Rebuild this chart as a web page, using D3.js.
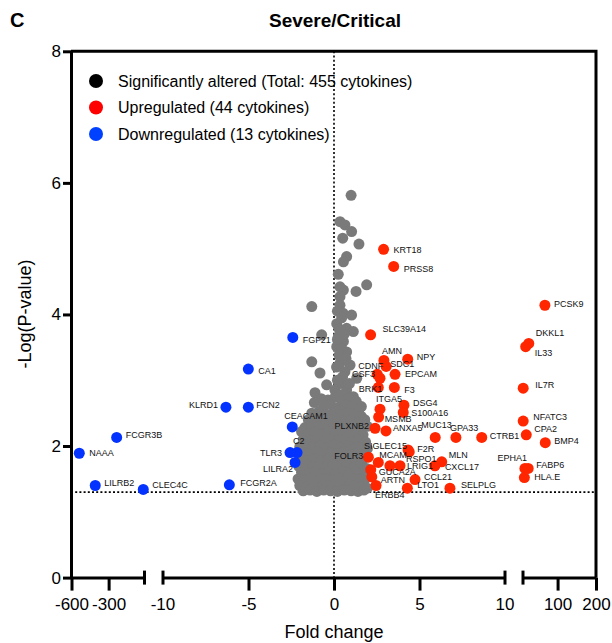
<!DOCTYPE html>
<html>
<head>
<meta charset="utf-8">
<script src="https://d3js.org/d3.v7.min.js"></script>
<style>
  body { margin:0; background:#fff; }
  svg { display:block; font-family: Arial, "Liberation Sans", Helvetica, sans-serif; }
  .lbl { font-size: 9px; fill:#111; }
</style>
</head>
<body>
<script>
// fold change (fc) and -log10(p)
var upregulated = [
  {name:"KRT18", fc:2.90, p:4.99}, {name:"PRSS8", fc:3.49, p:4.73},
  {name:"SLC39A14", fc:2.14, p:3.69}, {name:"NPY", fc:4.31, p:3.32},
  {name:"AMN", fc:2.92, p:3.30}, {name:"SDC1", fc:3.05, p:3.21},
  {name:"EPCAM", fc:3.57, p:3.09}, {name:"CDNF", fc:2.53, p:3.09},
  {name:"CSF3", fc:2.69, p:3.03}, {name:"BRK1", fc:2.59, p:2.89},
  {name:"F3", fc:3.53, p:2.89}, {name:"DSG4", fc:4.09, p:2.62},
  {name:"S100A16", fc:4.05, p:2.51}, {name:"ITGA5", fc:2.69, p:2.56},
  {name:"MSMB", fc:2.61, p:2.44}, {name:"PLXNB2", fc:2.40, p:2.27},
  {name:"ANXA5", fc:3.04, p:2.23}, {name:"MUC13", fc:5.92, p:2.13},
  {name:"GPA33", fc:7.13, p:2.13}, {name:"CTRB1", fc:8.64, p:2.13},
  {name:"SIGLEC15", fc:4.33, p:1.94}, {name:"F2R", fc:4.40, p:1.91},
  {name:"FOLR3", fc:2.01, p:1.83}, {name:"MCAM", fc:2.59, p:1.75},
  {name:"RSPO1", fc:3.86, p:1.70}, {name:"MLN", fc:6.30, p:1.76},
  {name:"CXCL17", fc:5.90, p:1.70}, {name:"LRIG1", fc:3.27, p:1.70},
  {name:"GUCA2A", fc:2.15, p:1.64}, {name:"ARTN", fc:2.21, p:1.53},
  {name:"CCL21", fc:4.74, p:1.49}, {name:"ERBB4", fc:2.46, p:1.40},
  {name:"LTO1", fc:4.29, p:1.36}, {name:"SELPLG", fc:6.78, p:1.36},
  {name:"PCSK9", fc:67, p:4.14}, {name:"DKKL1", fc:25, p:3.56},
  {name:"IL33", fc:17, p:3.51}, {name:"IL7R", fc:10.5, p:2.88},
  {name:"NFATC3", fc:10.5, p:2.38}, {name:"CPA2", fc:18.5, p:2.17},
  {name:"BMP4", fc:68, p:2.05}, {name:"EPHA1", fc:15, p:1.66},
  {name:"FABP6", fc:23.5, p:1.66}, {name:"HLA.E", fc:13.5, p:1.52}
];

var downregulated = [
  {name:"FGF21", fc:-2.41, p:3.65}, {name:"CA1", fc:-5.01, p:3.17},
  {name:"KLRD1", fc:-6.32, p:2.59}, {name:"FCN2", fc:-5.01, p:2.59},
  {name:"CEACAM1", fc:-2.44, p:2.29}, {name:"C2", fc:-2.16, p:1.90},
  {name:"TLR3", fc:-2.57, p:1.90}, {name:"LILRA2", fc:-2.28, p:1.75},
  {name:"FCGR2A", fc:-6.12, p:1.41}, {name:"FCGR3B", fc:-235, p:2.13},
  {name:"NAAA", fc:-537, p:1.89}, {name:"LILRB2", fc:-408, p:1.40},
  {name:"CLEC4C", fc:-20, p:1.34}
];

// remaining significant cytokines (grey cloud), [fc, -log p]
var others = [
  [1.0,5.81],[0.35,5.41],[0.64,5.36],[1.03,5.26],[0.51,5.16],[1.46,5.07],[0.74,4.88],[0.55,4.80],
  [0.25,4.61],[1.91,4.45],[1.29,4.35],[0.35,4.42],[0.55,4.37],[0.35,4.27],[-1.30,4.12],[0.35,4.14],
  [0.53,4.02],[1.03,3.99],[0.16,3.86],[0.74,3.79],[1.13,3.74],[-0.72,3.69],[0.25,3.66],[0.55,3.59],
  [0.16,3.51],[0.74,3.43],[-1.30,3.28],[0.94,3.23],[-0.82,3.11],[0.35,3.26],[0.64,3.13],[-0.43,2.93],
  [-1.11,2.81],[1.33,3.03],[0.35,2.95],[0.74,2.85],[1.13,2.75],
  [0.2,4.05],[0.45,3.95],[0.3,3.78],[0.6,3.7],[0.2,3.62],[0.45,3.48],[0.3,3.38],[0.7,3.33],
  [0.15,3.2],[0.5,3.05],[0.2,3.0],[0.9,2.95],[0.05,2.85],[0.4,2.78],
  [-0.75,2.72],[-0.35,2.70],[0.05,2.74],[0.45,2.69],[0.85,2.72],[1.3,2.68],[1.6,2.6],
  [-1.15,2.66],[-0.6,2.6],[-0.2,2.63],[0.25,2.58],[0.65,2.62],[1.05,2.6],[1.45,2.55],
  [-1.3,2.5],[-0.9,2.52],[-0.45,2.48],[0.0,2.52],[0.4,2.47],[0.8,2.5],[1.2,2.48],[1.6,2.45],
  [-1.5,2.4],[-1.05,2.38],[-0.65,2.42],[-0.25,2.38],[0.2,2.41],[0.6,2.37],[1.0,2.4],[1.4,2.36],[1.8,2.4],
  [-1.7,2.28],[-1.3,2.32],[-0.9,2.29],[-0.5,2.31],[-0.05,2.27],[0.35,2.3],[0.75,2.27],[1.15,2.31],[1.55,2.28],[1.95,2.3],
  [-1.9,2.22],[-1.5,2.19],[-1.1,2.21],[-0.7,2.18],[-0.3,2.22],[0.1,2.19],[0.5,2.21],[0.9,2.18],[1.3,2.2],[1.7,2.17],
  [-1.8,2.1],[-1.35,2.08],[-0.95,2.11],[-0.55,2.07],[-0.15,2.1],[0.25,2.08],[0.65,2.11],[1.05,2.07],[1.45,2.09],[1.85,2.06],
  [-2.0,1.99],[-1.6,2.01],[-1.2,1.98],[-0.8,2.0],[-0.4,1.97],[0.0,2.01],[0.4,1.98],[0.8,2.0],[1.2,1.97],[1.6,2.0],[1.95,1.96],
  [-1.85,1.9],[-1.45,1.88],[-1.0,1.91],[-0.6,1.87],[-0.2,1.9],[0.2,1.88],[0.6,1.91],[1.0,1.87],[1.4,1.89],[1.8,1.86],
  [-1.95,1.8],[-1.55,1.78],[-1.15,1.81],[-0.75,1.77],[-0.35,1.8],[0.05,1.78],[0.45,1.81],[0.85,1.77],[1.25,1.8],[1.65,1.77],
  [-2.05,1.69],[-1.65,1.71],[-1.25,1.68],[-0.85,1.7],[-0.45,1.67],[-0.05,1.71],[0.35,1.68],[0.75,1.7],[1.15,1.67],[1.55,1.7],[1.9,1.66],
  [-1.9,1.6],[-1.5,1.58],[-1.1,1.61],[-0.7,1.57],[-0.3,1.6],[0.1,1.58],[0.5,1.61],[0.9,1.57],[1.3,1.6],[1.7,1.58],
  [-2.1,1.5],[-1.7,1.48],[-1.3,1.51],[-0.9,1.47],[-0.5,1.5],[-0.1,1.48],[0.3,1.51],[0.7,1.47],[1.1,1.5],[1.5,1.48],[1.85,1.51],
  [-2.0,1.4],[-1.6,1.38],[-1.2,1.41],[-0.8,1.37],[-0.4,1.4],[0.0,1.38],[0.4,1.41],[0.8,1.37],[1.2,1.4],[1.6,1.38],[1.95,1.36],
  [-1.8,1.32],[-1.4,1.33],[-1.0,1.31],[-0.6,1.33],[-0.2,1.32],[0.2,1.31],[0.6,1.33],[1.0,1.32],[1.4,1.31],[1.75,1.33]
];

var yTicks = [0, 2, 4, 6, 8];
var xTicksLeft = [-600, -300], xTicksMid = [-10, -5, 0, 5, 10], xTicksRight = [100, 200];
var threshold = 1.3;
var legendLabels = ["Significantly altered (Total: 455 cytokines)", "Upregulated (44 cytokines)", "Downregulated (13 cytokines)"];

// label offsets from the point: [dx, dy, anchor]
var labelPos = {
  FGF21:[10,2,"start"], CA1:[10,2,"start"], KLRD1:[-8,-2,"end"], FCN2:[8,-2,"start"],
  CEACAM1:[-8,-11,"start"], C2:[-4,-12,"start"], TLR3:[-8,0,"end"], LILRA2:[-2,6,"end"],
  FCGR2A:[11,-2,"start"], FCGR3B:[9,-3,"start"], NAAA:[10,0,"start"], LILRB2:[9,-3,"start"],
  CLEC4C:[9,-5,"start"],
  KRT18:[10,1,"start"], PRSS8:[10,2,"start"], SLC39A14:[12,-6,"start"], NPY:[9,-2,"start"],
  AMN:[-2,-10,"start"], SDC1:[4,-3,"start"], EPCAM:[10,0,"start"], CDNF:[6,-8,"end"],
  CSF3:[-5,-4,"end"], BRK1:[4,1,"end"], F3:[10,2,"start"], DSG4:[9,-2,"start"],
  S100A16:[8,0,"start"], ITGA5:[-4,-10,"start"], MSMB:[6,2,"start"], PLXNB2:[-6,-2,"end"],
  ANXA5:[7,-3,"start"], MUC13:[-14,-13,"start"], GPA33:[-6,-10,"start"], CTRB1:[8,-2,"start"],
  SIGLEC15:[-1,-4,"end"], F2R:[8,-3,"start"], FOLR3:[-5,-1,"end"], MCAM:[1,-8,"start"],
  RSPO1:[6,-7,"start"], MLN:[7,-7,"start"], CXCL17:[10,1,"start"], LRIG1:[17,0,"start"],
  GUCA2A:[8,2,"start"], ARTN:[9,3,"start"], CCL21:[9,-3,"start"], ERBB4:[-1,9,"start"],
  LTO1:[10,-3,"start"], SELPLG:[11,-3,"start"],
  PCSK9:[9,-1,"start"], DKKL1:[7,-11,"start"], IL33:[9,6,"start"], IL7R:[12,-3,"start"],
  NFATC3:[10,-4,"start"], CPA2:[8,-6,"start"], BMP4:[9,-2,"start"], EPHA1:[2,-11,"end"],
  FABP6:[8,-4,"start"], "HLA.E":[10,-1,"start"]
};

var grey = "#7a7a7a", red = "#ff2600", blue = "#0433ff";
var r = 5.5;

var svg = d3.select("body").append("svg").attr("width", 612).attr("height", 643);

// broken x axis: three linear segments
var xLeft = d3.scaleLinear().domain([-600, -10]).range([71.5, 144.5]);
var xMid = d3.scaleLinear().domain([-10, 10]).range([163, 505]);
var xRight = d3.scaleLinear().domain([10, 200]).range([523, 596]);
function xPos(v) { return v < -10 ? xLeft(v) : (v > 10 ? xRight(v) : xMid(v)); }
var y = d3.scaleLinear().domain([0, 8]).range([577.6, 51.3]);
var plain = function(d) { return String(d); };   // hyphen minus like the original

// title & panel letter
svg.append("text").attr("x", 10).attr("y", 27).style("font-size", "20px").style("font-weight", "bold").text("C");
svg.append("text").attr("x", 335).attr("y", 27).attr("text-anchor", "middle")
  .style("font-size", "19px").style("font-weight", "bold").text("Severe/Critical");

// frame (top and right)
svg.append("path").attr("d", "M71," + y(8) + "H596V" + y(0))
  .attr("fill", "none").attr("stroke", "#000").attr("stroke-width", 3);

// reference lines
svg.append("line").attr("x1", 71).attr("x2", 596).attr("y1", y(threshold)).attr("y2", y(threshold))
  .attr("stroke", "#000").attr("stroke-width", 1.6).attr("stroke-dasharray", "2,2.2");
svg.append("line").attr("x1", xMid(0)).attr("x2", xMid(0)).attr("y1", y(8)).attr("y2", y(0))
  .attr("stroke", "#000").attr("stroke-width", 1.6).attr("stroke-dasharray", "2,2.2");

// points
svg.append("g").selectAll("circle").data(others).enter().append("circle")
  .attr("cx", function(d) { return xPos(d[0]); })
  .attr("cy", function(d) { return y(d[1]); })
  .attr("r", r).attr("fill", grey);

svg.append("g").selectAll("circle").data(upregulated).enter().append("circle")
  .attr("cx", function(d) { return xPos(d.fc); })
  .attr("cy", function(d) { return y(d.p); })
  .attr("r", r).attr("fill", red);

svg.append("g").selectAll("circle").data(downregulated).enter().append("circle")
  .attr("cx", function(d) { return xPos(d.fc); })
  .attr("cy", function(d) { return y(d.p); })
  .attr("r", r).attr("fill", blue);

// labels
svg.append("g").selectAll("text").data(upregulated.concat(downregulated)).enter().append("text")
  .attr("class", "lbl")
  .attr("x", function(d) { return xPos(d.fc) + labelPos[d.name][0]; })
  .attr("y", function(d) { return y(d.p) + labelPos[d.name][1]; })
  .attr("dy", "0.35em")
  .attr("text-anchor", function(d) { return labelPos[d.name][2]; })
  .text(function(d) { return d.name; });

// y axis
var yAxis = svg.append("g").attr("transform", "translate(71,0)")
  .call(d3.axisLeft(y).tickValues(yTicks).tickSize(8).tickSizeOuter(0).tickFormat(plain));
yAxis.select(".domain").attr("stroke-width", 3);
yAxis.selectAll(".tick line").attr("stroke-width", 3);
yAxis.selectAll(".tick text").style("font-size", "17px").attr("x", -10).attr("fill", "#000");

// x axis segments
function segment(scale, ticks) {
  var g = svg.append("g").attr("transform", "translate(0," + y(0) + ")")
    .call(d3.axisBottom(scale).tickValues(ticks).tickSizeInner(13).tickSizeOuter(0).tickFormat(plain));
  g.select(".domain").attr("stroke-width", 3);
  g.selectAll(".tick line").attr("stroke-width", 3);
  g.selectAll(".tick text").style("font-size", "17px").attr("y", 20).attr("fill", "#000");
  return g;
}
segment(xLeft, xTicksLeft);
segment(xMid, xTicksMid.filter(function(t) { return t !== -10 && t !== 10; }));
segment(xRight, xTicksRight);
// end labels of the middle segment sit under the break caps
svg.append("g").selectAll("text").data([-10, 10]).enter().append("text")
  .attr("x", function(d) { return xMid(d); }).attr("y", y(0) + 20).attr("dy", "0.71em")
  .attr("text-anchor", "middle").style("font-size", "17px").text(plain);

// break caps
var caps = [xLeft.range()[1], xMid.range()[0], xMid.range()[1], xRight.range()[0]];
svg.append("g").selectAll("line").data(caps).enter().append("line")
  .attr("x1", function(d) { return d; }).attr("x2", function(d) { return d; })
  .attr("y1", y(0) - 7).attr("y2", y(0) + 7)
  .attr("stroke", "#000").attr("stroke-width", 3);

// axis titles
svg.append("text").attr("x", 334).attr("y", 638).attr("text-anchor", "middle")
  .style("font-size", "18px").text("Fold change");
svg.append("text").attr("transform", "translate(31,314) rotate(-90)").attr("text-anchor", "middle")
  .style("font-size", "18px").text("-Log(P-value)");

// legend
var legend = svg.append("g").selectAll("g").data(legendLabels).enter().append("g")
  .attr("transform", function(d, i) { return "translate(96," + [81, 107.5, 134][i] + ")"; });
legend.append("circle").attr("r", 7)
  .attr("fill", function(d, i) { return ["#000", "#ff0000", "#0040ff"][i]; });
legend.append("text").attr("x", 22).attr("dy", "0.35em").style("font-size", "16px")
  .text(function(d) { return d; });
</script>
</body>
</html>
